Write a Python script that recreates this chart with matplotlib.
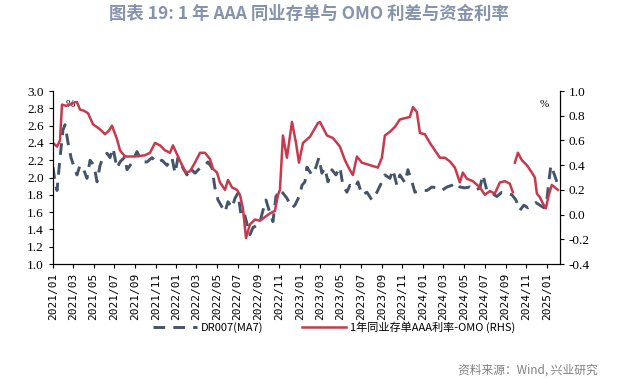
import numpy as np
import pandas as pd
import matplotlib
matplotlib.use("Agg")
import matplotlib.pyplot as plt

plt.rcParams['font.family'] = ['Noto Sans CJK SC', 'DejaVu Sans']

# months elapsed since 2021-01-01
red_m = [0.0, 0.39, 0.68, 0.87, 1.26, 1.65, 2.14, 2.33, 2.62, 3.01, 3.40, 3.89, 4.57, 5.05,
         5.44, 5.73, 6.22, 6.51, 7.00, 7.97, 8.94, 9.43, 9.91, 10.40, 10.88, 11.37, 11.66,
         12.15, 12.54, 12.93, 13.31, 13.80, 14.29, 14.77, 15.26, 15.55, 15.94, 16.23, 16.72,
         17.01, 17.40, 17.88, 18.17, 18.46, 18.76, 19.14, 19.63, 20.12, 20.60, 21.09, 21.57,
         21.87, 22.06, 22.35, 22.74, 23.23, 23.62, 23.91, 24.30, 24.98, 25.75, 25.95, 26.63,
         27.21, 27.89, 28.38, 28.86, 29.15, 29.54, 30.03, 30.81, 31.58, 31.97, 32.26, 32.75,
         33.24, 33.72, 34.21, 34.69, 34.99, 35.37, 35.67, 36.15, 36.64, 37.12, 37.61, 38.10,
         38.58, 39.07, 39.55, 39.84, 40.23, 40.82, 41.50, 41.98, 42.47, 42.95, 43.44, 43.93,
         44.41, 44.70, 44.80, 44.90, 45.19, 45.58, 46.06, 46.55, 46.84, 47.04, 47.33, 47.62,
         47.91, 48.20, 48.49, 48.79, 49.08]
# 1年同业存单AAA利率-OMO (RHS)
red_v = [0.58, 0.55, 0.60, 0.89, 0.88, 0.89, 0.91, 0.91, 0.85, 0.84, 0.82, 0.73, 0.69, 0.65,
         0.68, 0.72, 0.61, 0.52, 0.47, 0.47, 0.48, 0.50, 0.58, 0.56, 0.52, 0.50, 0.56,
         0.47, 0.40, 0.34, 0.35, 0.42, 0.50, 0.50, 0.45, 0.37, 0.34, 0.26, 0.20,
         0.28, 0.22, 0.20, 0.16, 0.05, -0.19, -0.08, -0.04, -0.05, -0.02, 0.01, 0.03,
         0.16, 0.20, 0.64, 0.46, 0.75, 0.58, 0.42, 0.58, 0.63, 0.74, 0.75, 0.64,
         0.62, 0.55, 0.44, 0.36, 0.32, 0.47, 0.42, 0.40, 0.38, 0.46, 0.64, 0.67,
         0.71, 0.77, 0.78, 0.79, 0.87, 0.83, 0.66, 0.65, 0.58, 0.52, 0.46, 0.46,
         0.43, 0.38, 0.26, 0.34, 0.29, 0.27, 0.22, 0.16, 0.19, 0.17, 0.26, 0.27,
         0.25, 0.18, np.nan, 0.42, 0.50, 0.44, 0.40, 0.34, 0.30, 0.17, 0.14, 0.09,
         0.05, 0.16, 0.24, 0.22, 0.20]

blue_m = [0.0, 0.19, 0.39, 0.68, 0.97, 1.17, 1.46, 1.75, 2.14, 2.33, 2.62, 2.92, 3.30, 3.60,
          3.98, 4.28, 4.57, 4.86, 5.25, 5.54, 5.83, 6.22, 6.51, 7.00, 7.19, 7.68, 8.16, 8.65,
          9.14, 9.62, 10.11, 10.59, 11.08, 11.56, 11.86, 12.15, 12.63, 13.02, 13.31, 13.80,
          14.29, 14.77, 15.06, 15.45, 15.74, 16.04, 16.42, 16.72, 17.01, 17.40, 17.69, 17.98,
          18.27, 18.56, 18.85, 19.14, 19.44, 19.83, 20.12, 20.41, 20.70, 21.09, 21.38, 21.67,
          22.06, 22.35, 22.74, 23.23, 23.52, 24.00, 24.20, 24.49, 24.68, 25.17, 25.56, 25.85,
          26.14, 26.43, 26.73, 27.11, 27.50, 27.89, 28.18, 28.57, 28.86, 29.35, 29.64, 30.03,
          30.52, 31.00, 31.49, 31.97, 32.26, 32.75, 33.04, 33.43, 33.72, 34.21, 34.50, 34.89,
          35.18, 35.67, 36.35, 36.83, 37.32, 37.80, 38.29, 38.78, 39.16, 39.55, 40.04, 40.52,
          41.01, 41.50, 41.79, 42.18, 42.66, 43.15, 43.64, 44.12, 44.61, 45.00, 45.38, 45.77,
          46.16, 46.55, 46.94, 47.33, 47.72, 48.01, 48.20, 48.40, 48.69, 48.98]
# DR007(MA7)
blue_v = [2.12, 1.95, 1.85, 2.23, 2.55, 2.61, 2.40, 2.23, 2.09, 2.03, 2.14, 2.11, 1.99, 2.20,
          2.14, 1.95, 2.14, 2.23, 2.28, 2.23, 2.34, 2.11, 2.18, 2.24, 2.09, 2.17, 2.30, 2.18,
          2.18, 2.23, 2.17, 2.20, 2.14, 2.23, 2.05, 2.23, 2.11, 2.03, 2.11, 2.05,
          2.11, 2.14, 2.18, 2.11, 1.88, 1.74, 1.66, 1.60, 1.72, 1.65, 1.76, 1.82,
          1.57, 1.60, 1.47, 1.34, 1.42, 1.45, 1.49, 1.62, 1.74, 1.59, 1.49, 1.78,
          1.86, 1.82, 1.76, 1.65, 1.68, 1.80, 1.91, 1.95, 2.12, 2.03, 2.12, 2.23,
          2.05, 2.11, 1.95, 2.09, 2.03, 2.12, 1.91, 1.83, 1.91, 1.88, 1.95, 1.80,
          1.83, 1.74, 1.83, 1.95, 2.03, 1.99, 2.09, 1.91, 2.03, 1.94, 2.09, 1.95,
          1.83, 1.85, 1.85, 1.89, 1.88, 1.85, 1.89, 1.91, 1.94, 1.89, 1.88, 1.89,
          1.85, 1.88, 2.03, 1.85, 1.82, 1.78, 1.83, 1.82, 1.80, 1.74, 1.62, 1.68,
          1.65, 1.68, 1.71, 1.68, 1.65, 1.74, 1.95, 2.14, 2.05, 1.95]

start = pd.Timestamp("2021-01-01")


def to_dates(months):
    return [start + pd.Timedelta(days=m * 30.44) for m in months]


red_dates = to_dates(red_m)
blue_dates = to_dates(blue_m)

blue_c = "#44546A"
red_c = "#C8394D"

fig = plt.figure(figsize=(6.18, 3.83), dpi=100)
ax = fig.add_axes([0.0858, 0.3107, 0.8202, 0.4517])
ax2 = ax.twinx()

ax.plot(blue_dates, blue_v, color=blue_c, lw=2.1, dashes=(4, 2.8))
ax2.plot(red_dates, red_v, color=red_c, lw=1.8)

ax.set_ylim(1.0, 3.0)
ax.set_yticks(np.arange(1.0, 3.01, 0.2))
ax2.set_ylim(-0.4, 1.0)
ax2.set_yticks(np.arange(-0.4, 1.01, 0.2))
ax.set_xlim(start, pd.Timestamp("2025-02-09"))

ticks = pd.date_range("2021-01-01", "2025-01-01", freq="2MS")
ax.set_xticks(ticks)
ax.set_xticklabels([t.strftime("%Y/%m") for t in ticks], rotation=90,
                   fontsize=8, family="DejaVu Sans Mono")

for a in (ax, ax2):
    a.spines["top"].set_visible(False)
    a.tick_params(direction="out", length=3, width=0.8, colors="black")
ax.set_yticklabels([f"{v:.1f}" for v in ax.get_yticks()], family="Liberation Serif", fontsize=9.5)
ax2.set_yticklabels([f"{v:.1f}" for v in ax2.get_yticks()], family="Liberation Serif", fontsize=9.5)

ax.text(0.025, 0.905, "%", transform=ax.transAxes, fontsize=8, family="Liberation Serif")
ax2.text(0.96, 0.905, "%", transform=ax2.transAxes, fontsize=8, family="Liberation Serif")

fig.text(0.5, 0.963, "图表 19: 1 年 AAA 同业存单与 OMO 利差与资金利率", ha="center", va="center",
         fontsize=12.5, fontweight="bold", color="#8593AD")

h1, = ax.plot([], [], color=blue_c, lw=2.1, dashes=(4, 2.8))
h2, = ax.plot([], [], color=red_c, lw=1.8)
fig.legend([h1, h2], ["DR007(MA7)", "1年同业存单AAA利率-OMO (RHS)"], loc="center",
           bbox_to_anchor=(0.54, 0.146), ncol=2, frameon=False, fontsize=8,
           handlelength=4, columnspacing=3.5, handletextpad=0.3)

fig.text(0.968, 0.033, "资料来源：Wind, 兴业研究", ha="right", va="center",
         fontsize=8.5, color="#808080")

fig.savefig("out.png", dpi=100)
